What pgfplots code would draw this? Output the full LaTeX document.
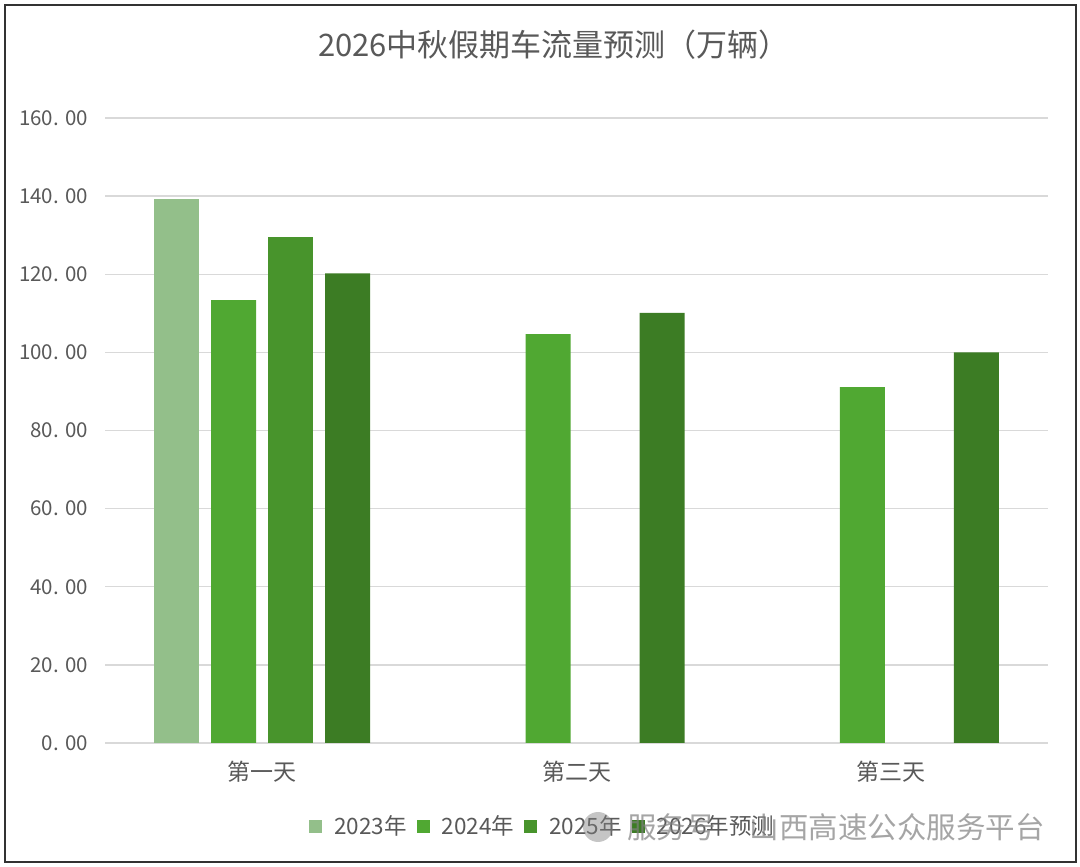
\documentclass[border=0pt]{standalone}
\usepackage{fontspec}
\setmainfont{Noto Sans CJK SC}
\usepackage{pgfplots}
\pgfplotsset{compat=1.18}

\definecolor{txt}{RGB}{89,89,89}
\definecolor{gridc}{RGB}{217,217,217}
\definecolor{cA}{RGB}{147,191,138}
\definecolor{cB}{RGB}{80,168,50}
\definecolor{cC}{RGB}{72,148,44}
\definecolor{cD}{RGB}{60,124,36}
\definecolor{framec}{RGB}{50,50,50}

\newcommand\dotsp{.\hspace{0.3em}}
\pgfplotsset{sq/.style={legend image code/.code={\fill[##1,draw=none] (0bp,-6.5bp) rectangle (13bp,6.5bp);}}}

\begin{document}
\begin{tikzpicture}
\useasboundingbox (0,0) rectangle (1080bp,867bp);
\fill[white] (0,0) rectangle (1080bp,867bp);
\draw[framec, line width=2bp] (5bp,5bp) rectangle (1076bp,862bp);
\node[txt, font=\fontsize{31bp}{31bp}\selectfont] at (554bp,822bp) {2026中秋假期车流量预测（万辆）};

\begin{axis}[
  at={(105bp,124bp)}, anchor=south west,
  scale only axis, width=943bp, height=625bp,
  ybar=12bp, bar width=45bp,
  xmin=-0.5, xmax=2.5, ymin=0, ymax=160,
  xtick={0,1,2}, xticklabels={第一天,第二天,第三天},
  ytick={0,20,...,160},
  yticklabels={0\dotsp00,20\dotsp00,40\dotsp00,60\dotsp00,80\dotsp00,100\dotsp00,120\dotsp00,140\dotsp00,160\dotsp00},
  ymajorgrids, grid style={gridc, line width=1.3bp},
  axis line style={draw=none},
  major tick length=0pt,
  yticklabel style={anchor=east, inner sep=0pt, xshift=-17bp, text=txt, font=\fontsize{20.5bp}{20.5bp}\selectfont},
  xticklabel style={anchor=north, inner sep=0pt, yshift=-18bp, text=txt, font=\fontsize{23bp}{23bp}\selectfont},
  legend columns=4,
  legend style={at={(0.463,-0.133)}, anchor=center, draw=none, fill=none,
    text=txt, font=\fontsize{22.5bp}{22.5bp}\selectfont,
    nodes={inner sep=0pt},
    /tikz/every odd column/.append style={column sep=12bp},
    /tikz/every even column/.append style={column sep=10bp}},
]
\addplot[fill=cA, draw=none, sq] coordinates {(0,139.2)};
\addlegendentry{2023年}
\addplot[fill=cB, draw=none, sq] coordinates {(0,113.4) (1,104.7) (2,91.1)};
\addlegendentry{2024年}
\addplot[fill=cC, draw=none, sq] coordinates {(0,129.5)};
\addlegendentry{2025年}
\addplot[fill=cD, draw=none, sq] coordinates {(0,120.2) (1,110.1) (2,100.0)};
\addlegendentry{2026年预测}
\end{axis}

\fill[gray, opacity=0.45] (598bp,40bp) circle (15bp);
\node[anchor=west, text=gray, opacity=0.7, font=\fontsize{29.5bp}{29.5bp}\selectfont, inner sep=0pt] at (627bp,40bp) {服务号\hspace{1.15em}山西高速公众服务平台};
\end{tikzpicture}
\end{document}
